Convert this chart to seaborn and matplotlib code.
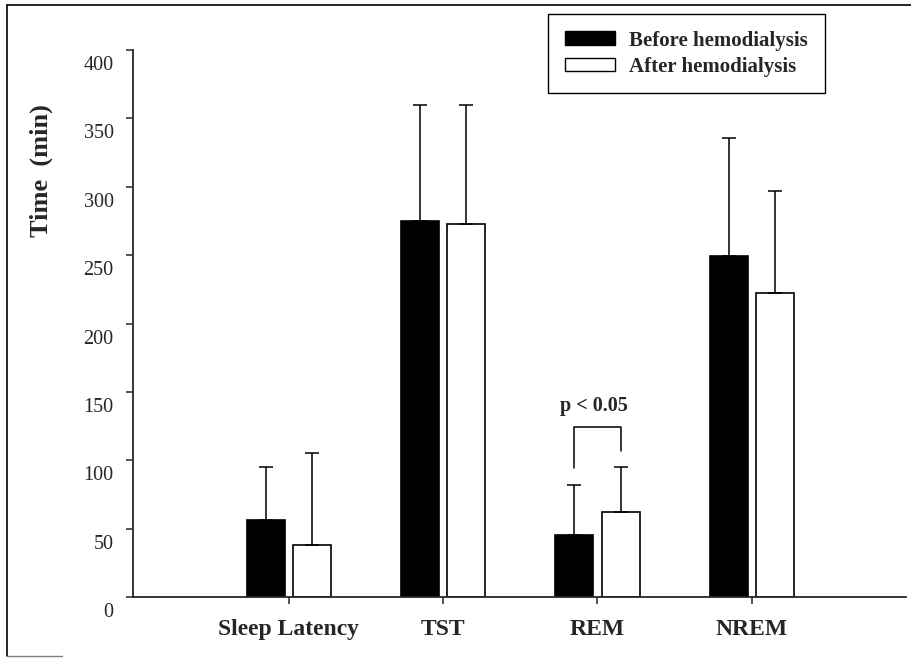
import numpy as np
import pandas as pd
import seaborn as sns
import matplotlib
matplotlib.use('Agg')
from matplotlib import pyplot as plt
from matplotlib.lines import Line2D
from matplotlib.patches import Patch
from matplotlib.transforms import ScaledTranslation

# data (min)
stages = ['Sleep Latency', 'TST', 'REM', 'NREM']
groups = ['Before hemodialysis', 'After hemodialysis']
before_mean = [56, 275, 45, 249]
before_sd = [39, 85, 37, 87]
after_mean = [38, 273, 62, 222]
after_sd = [67, 87, 33, 75]
yticks = [0, 50, 100, 150, 200, 250, 300, 350, 400]
bracket_top = 124
bracket_feet = [94, 107]
p_text = 'p < 0.05'

df = pd.DataFrame({
    'Stage': stages * 2,
    'Group': [groups[0]] * 4 + [groups[1]] * 4,
    'Time': before_mean + after_mean,
    'SD': before_sd + after_sd,
})

sns.set_style('ticks')
plt.rcParams['font.family'] = ['Liberation Serif', 'DejaVu Serif']

fig = plt.figure(figsize=(9.11, 6.58), dpi=100)
ax = fig.add_axes([133 / 911, 1 - 597 / 658, (906 - 133) / 911, 547 / 658])

sns.barplot(data=df, x='Stage', y='Time', hue='Group', order=stages, hue_order=groups,
            palette=['black', 'white'], edgecolor='black', linewidth=1.2,
            width=0.6, gap=0.18, errorbar=None, legend=False, ax=ax)

# upward-only error bars, taken from the bar patches
for cont, sd in zip(ax.containers, [before_sd, after_sd]):
    xs = [p.get_x() + p.get_width() / 2 for p in cont.patches]
    hs = [p.get_height() for p in cont.patches]
    ax.errorbar(xs, hs, yerr=[np.zeros(len(sd)), sd], fmt='none', ecolor='black',
                elinewidth=1.1, capsize=5, capthick=1.1, zorder=1)

# significance bracket over REM
rem = stages.index('REM')
x0 = ax.containers[0].patches[rem]
x1 = ax.containers[1].patches[rem]
xa = x0.get_x() + x0.get_width() / 2
xb = x1.get_x() + x1.get_width() / 2
ax.plot([xa, xa, xb, xb], [bracket_feet[0], bracket_top, bracket_top, bracket_feet[1]],
        color='black', lw=1.1)
ax.text((xa + xb) / 2 - 0.02, bracket_top + 8, p_text, ha='center', va='bottom',
        fontsize=14.5, fontweight='bold')

ax.set_ylim(0, 400)
ax.set_xlim(-1.01, 4.0)
ax.set_yticks(yticks)
ax.set_yticklabels([str(v) for v in yticks], fontsize=14.5)
ax.set_xticks(range(len(stages)))
ax.set_xticklabels(stages, fontsize=17, fontweight='bold')
ax.tick_params(axis='y', direction='out', length=5, width=1.1, pad=9)
ax.tick_params(axis='x', direction='out', length=5, width=1.1, pad=11)
for lab in ax.get_yticklabels():
    lab.set_transform(lab.get_transform() + ScaledTranslation(0, -0.13, fig.dpi_scale_trans))
ax.set_xlabel('')
ax.set_ylabel('Time  (min)', fontsize=19, fontweight='bold')
ax.yaxis.set_label_coords(-0.103, 0.78)
for s in ['left', 'bottom']:
    ax.spines[s].set_linewidth(1.3)
sns.despine(ax=ax)

handles = [Patch(facecolor='black', edgecolor='black'),
           Patch(facecolor='white', edgecolor='black')]
leg = ax.legend(handles, groups, loc='upper left', bbox_to_anchor=(0.537, 1.066),
                borderaxespad=0, fancybox=False, framealpha=1, edgecolor='black',
                handlelength=2.4, handleheight=0.65, handletextpad=0.7,
                borderpad=0.8, labelspacing=0.3,
                prop={'family': 'Liberation Serif', 'weight': 'bold', 'size': 15})
leg.get_frame().set_linewidth(1.0)

# scanned page frame
fig.add_artist(Line2D([7 / 911, 1.0], [1 - 5 / 658, 1 - 5 / 658], color='black', lw=1.2))
fig.add_artist(Line2D([7 / 911, 7 / 911], [1 - 5 / 658, 1 - 656 / 658], color='black', lw=1.2))
fig.add_artist(Line2D([7 / 911, 62 / 911], [1 - 656 / 658, 1 - 656 / 658], color='gray', lw=1.0))

fig.savefig('out.png', dpi=100)
